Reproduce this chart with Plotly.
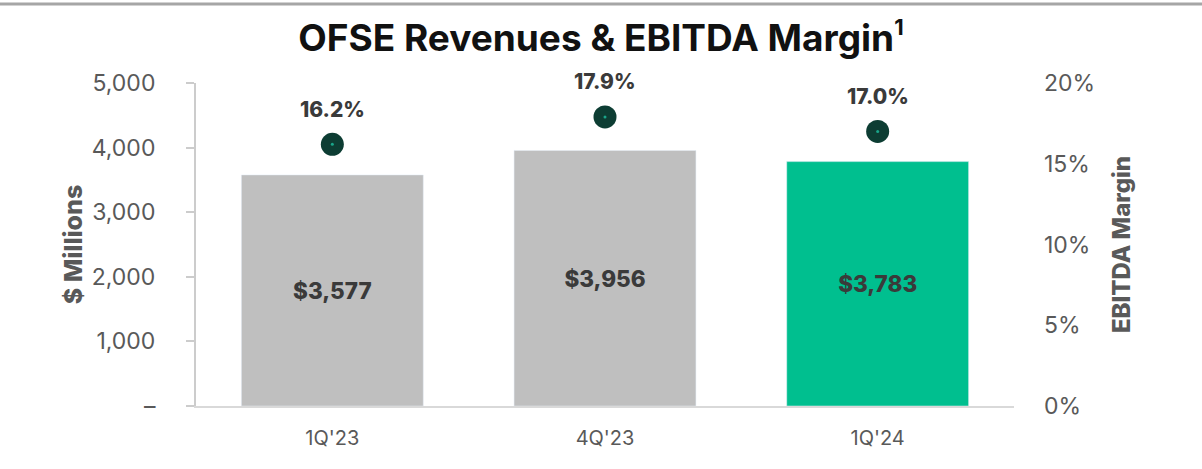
import plotly.graph_objects as go

categories = ["1Q'23", "4Q'23", "1Q'24"]
revenues = [3577, 3956, 3783]
margins = [0.162, 0.179, 0.170]
bar_colors = ["#bfbfbf", "#bfbfbf", "#00bf8f"]
rev_labels = ["$3,577", "$3,956", "$3,783"]
margin_labels = ["16.2%", "17.9%", "17.0%"]
left_ticks = [0, 1000, 2000, 3000, 4000, 5000]
left_ticktext = ["–", "1,000", "2,000", "3,000", "4,000", "5,000"]
right_ticks = [0, 0.05, 0.10, 0.15, 0.20]
right_ticktext = ["0%", "5%", "10%", "15%", "20%"]

FONT = "Inter"
fig = go.Figure()
fig.add_trace(go.Bar(
    x=categories, y=revenues, marker_color=bar_colors, width=0.667,
    text=rev_labels, textposition="inside", insidetextanchor="middle",
    textfont=dict(family=FONT, size=22.5, color="#3a3a3a", weight=800),
    showlegend=False, hoverinfo="skip"))
fig.add_trace(go.Scatter(
    x=categories, y=margins, yaxis="y2", mode="markers",
    marker=dict(size=23, color="#0d3d33"), showlegend=False, hoverinfo="skip"))
fig.add_trace(go.Scatter(
    x=categories, y=margins, yaxis="y2", mode="markers",
    marker=dict(size=3, color="#1aa58a"), showlegend=False, hoverinfo="skip"))
for c, m, t in zip(categories, margins, margin_labels):
    fig.add_annotation(x=c, y=m, yref="y2", text=t, showarrow=False, yshift=35,
                       font=dict(family=FONT, size=21, color="#3a3a3a", weight=800))

fig.add_shape(type="line", xref="paper", yref="paper", x0=-0.3, x1=1.3,
              y0=1.2446, y1=1.2446, line=dict(color="#a6a6a6", width=3))

fig.update_layout(
    width=1202, height=469,
    margin=dict(l=196, r=188, t=83, b=63),
    paper_bgcolor="white", plot_bgcolor="white",
    title=dict(text="OFSE Revenues & EBITDA Margin<sup><span style='font-size:22px'>1</span></sup>",
               x=0.5, xanchor="center", y=0.919, yanchor="middle",
               font=dict(family=FONT, size=37, color="#111111", weight=700)),
    bargap=0.333,
    xaxis=dict(showline=True, linecolor="#d9d9d9", linewidth=2, ticks="", automargin=False,
               tickfont=dict(family=FONT, size=20, color="#595959"), ticklabelstandoff=13),
    yaxis=dict(range=[0, 5000], tickvals=left_ticks, ticktext=left_ticktext, automargin=False,
               showgrid=False, zeroline=False, showline=True, linecolor="#cccccc", linewidth=2,
               ticks="outside", ticklen=8, tickcolor="#cccccc", tickwidth=2,
               ticklabelstandoff=26,
               tickfont=dict(family=FONT, size=23, color="#595959"),
               title=dict(text="$ Millions", standoff=2,
                          font=dict(family=FONT, size=25, color="#595959", weight=800))),
    yaxis2=dict(range=[0, 0.2], overlaying="y", side="right", tickvals=right_ticks,
                ticktext=right_ticktext, showgrid=False, zeroline=False, showline=False,
                ticks="", ticklabelstandoff=29, automargin=False,
                tickfont=dict(family=FONT, size=23, color="#595959"),
                title=dict(text="EBITDA Margin", standoff=19,
                           font=dict(family=FONT, size=24, color="#595959", weight=800))),
)
fig.write_html("out.html", config={"displayModeBar": False},
               post_script="document.body.style.margin='0';")
